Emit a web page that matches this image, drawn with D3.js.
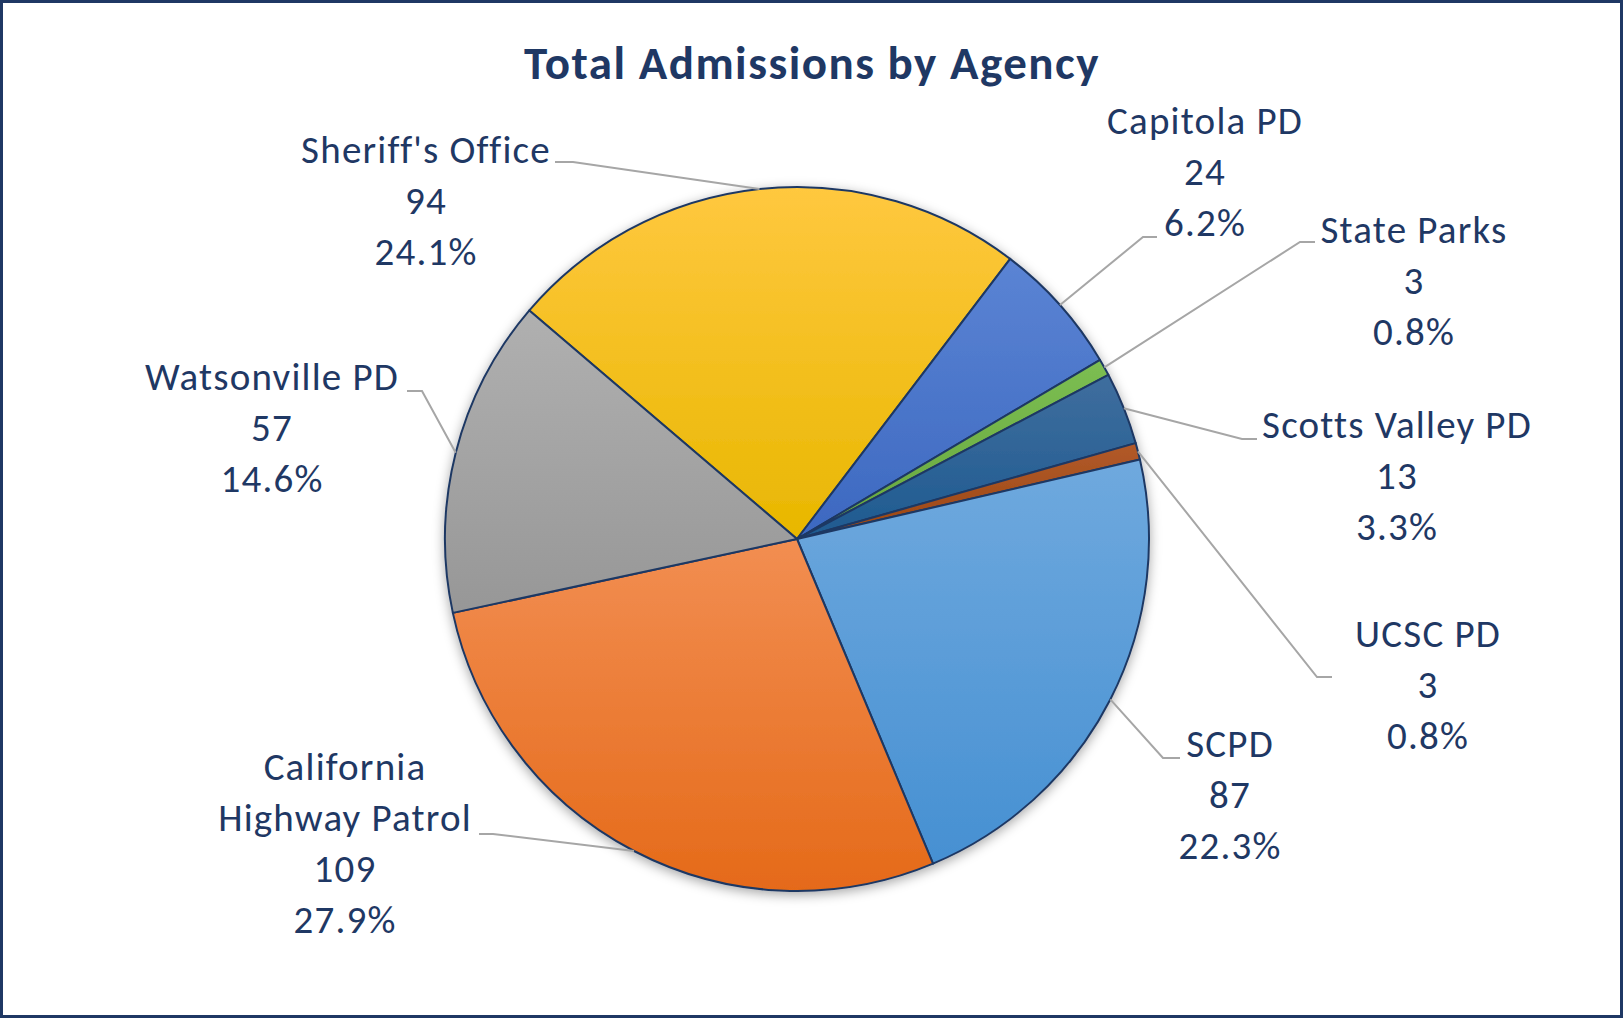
<!DOCTYPE html>
<html>
<head>
<meta charset="utf-8">
<script src="https://cdn.jsdelivr.net/npm/d3@7"></script>
<style>
  html, body { margin: 0; padding: 0; background: #fff; }
  svg { display: block; }
  text { font-family: Carlito, Lato, "Open Sans", sans-serif; fill: #1F3864; }
</style>
</head>
<body>
<svg id="chart" width="1623" height="1018"></svg>
<script>
// ---- data ----
const categories = ["Sheriff's Office", "Capitola PD", "State Parks", "Scotts Valley PD", "UCSC PD", "SCPD", "California Highway Patrol", "Watsonville PD"];
const values = [94, 24, 3, 13, 3, 87, 109, 57];
const labelLines = [["Sheriff's Office"], ["Capitola PD"], ["State Parks"], ["Scotts Valley PD"], ["UCSC PD"], ["SCPD"], ["California", "Highway Patrol"], ["Watsonville PD"]];
const title = "Total Admissions by Agency";

// ---- styles ----
const colorsTop = ["#FFC83F", "#5B84D4", "#7CBE52", "#3F6E9E", "#B25A2A", "#6FA9DE", "#F28E52", "#B0B0B0"];
const colorsBottom = ["#E8B700", "#3C68C0", "#66A63E", "#1E5A90", "#9A4612", "#4690D2", "#E56A19", "#979797"];

// ---- layout ----
const W = 1623, H = 1018;
const cx = 797, cy = 539, R = 352;
const startDeg = -49.5;
// label layout: text center x, first baseline y, leader start [x, y], elbow x
const labelLayout = [
  { x: 426, y: 163, lx: 555, ly: 162, ex: 573 },
  { x: 1205, y: 134, lx: 1157, ly: 237, ex: 1143 },
  { x: 1414, y: 243, lx: 1315, ly: 242, ex: 1300 },
  { x: 1397, y: 438, lx: 1257, ly: 439, ex: 1242 },
  { x: 1428, y: 647, lx: 1332, ly: 677, ex: 1317 },
  { x: 1230, y: 757, lx: 1180, ly: 758, ex: 1163 },
  { x: 345, y: 780, lx: 479, ly: 834, ex: 493 },
  { x: 272, y: 390, lx: 407, ly: 391, ex: 422 }
];
const lineGap = 51;

const svg = d3.select("#chart");
const defs = svg.append("defs");

const shadow = defs.append("filter").attr("id", "shadow")
  .attr("x", "-20%").attr("y", "-20%").attr("width", "140%").attr("height", "140%");
shadow.append("feDropShadow").attr("dx", 0).attr("dy", 3).attr("stdDeviation", 6)
  .attr("flood-color", "#000").attr("flood-opacity", 0.35);

values.forEach((v, i) => {
  const g = defs.append("linearGradient").attr("id", "grad" + i)
    .attr("x1", 0).attr("y1", 0).attr("x2", 0).attr("y2", 1);
  g.append("stop").attr("offset", "0%").attr("stop-color", colorsTop[i]);
  g.append("stop").attr("offset", "100%").attr("stop-color", colorsBottom[i]);
});

// background + border
svg.append("rect").attr("x", 1.5).attr("y", 1.5).attr("width", W - 3).attr("height", H - 3)
  .attr("fill", "#fff").attr("stroke", "#1F3864").attr("stroke-width", 3);

// title
svg.append("text").attr("x", 812).attr("y", 79).attr("text-anchor", "middle")
  .attr("font-size", 47).attr("font-weight", "bold").attr("letter-spacing", 1.5).text(title);

const total = d3.sum(values);
const start = startDeg * Math.PI / 180;
const pie = d3.pie().sort(null).value(d => d).startAngle(start).endAngle(start + 2 * Math.PI);
const arcs = pie(values);
const arc = d3.arc().innerRadius(0).outerRadius(R);

const gPie = svg.append("g").attr("transform", `translate(${cx},${cy})`);
const pieShadow = gPie.append("g").attr("filter", "url(#shadow)");
pieShadow.selectAll("path").data(arcs).join("path")
  .attr("d", arc)
  .attr("fill", (d, i) => `url(#grad${i})`)
  .attr("stroke", "#1F3864")
  .attr("stroke-width", 2)
  .attr("stroke-linejoin", "round");

// leader lines
const gLines = svg.append("g");
arcs.forEach((d, i) => {
  const a = (d.startAngle + d.endAngle) / 2;
  const px = cx + R * Math.sin(a), py = cy - R * Math.cos(a);
  const L = labelLayout[i];
  gLines.append("polyline")
    .attr("points", `${L.lx},${L.ly} ${L.ex},${L.ly} ${px},${py}`)
    .attr("fill", "none").attr("stroke", "#A6A6A6").attr("stroke-width", 2);
});

// labels
const fmtPct = d3.format(".1%");
const gLabels = svg.append("g");
arcs.forEach((d, i) => {
  const L = labelLayout[i];
  const lines = labelLines[i].concat([String(values[i]), fmtPct(values[i] / total)]);
  const t = gLabels.append("text").attr("text-anchor", "middle")
    .attr("font-size", 39).attr("letter-spacing", 1.2);
  lines.forEach((s, k) => {
    t.append("tspan").attr("x", L.x).attr("y", L.y + k * lineGap).text(s);
  });
});
</script>
</body>
</html>
